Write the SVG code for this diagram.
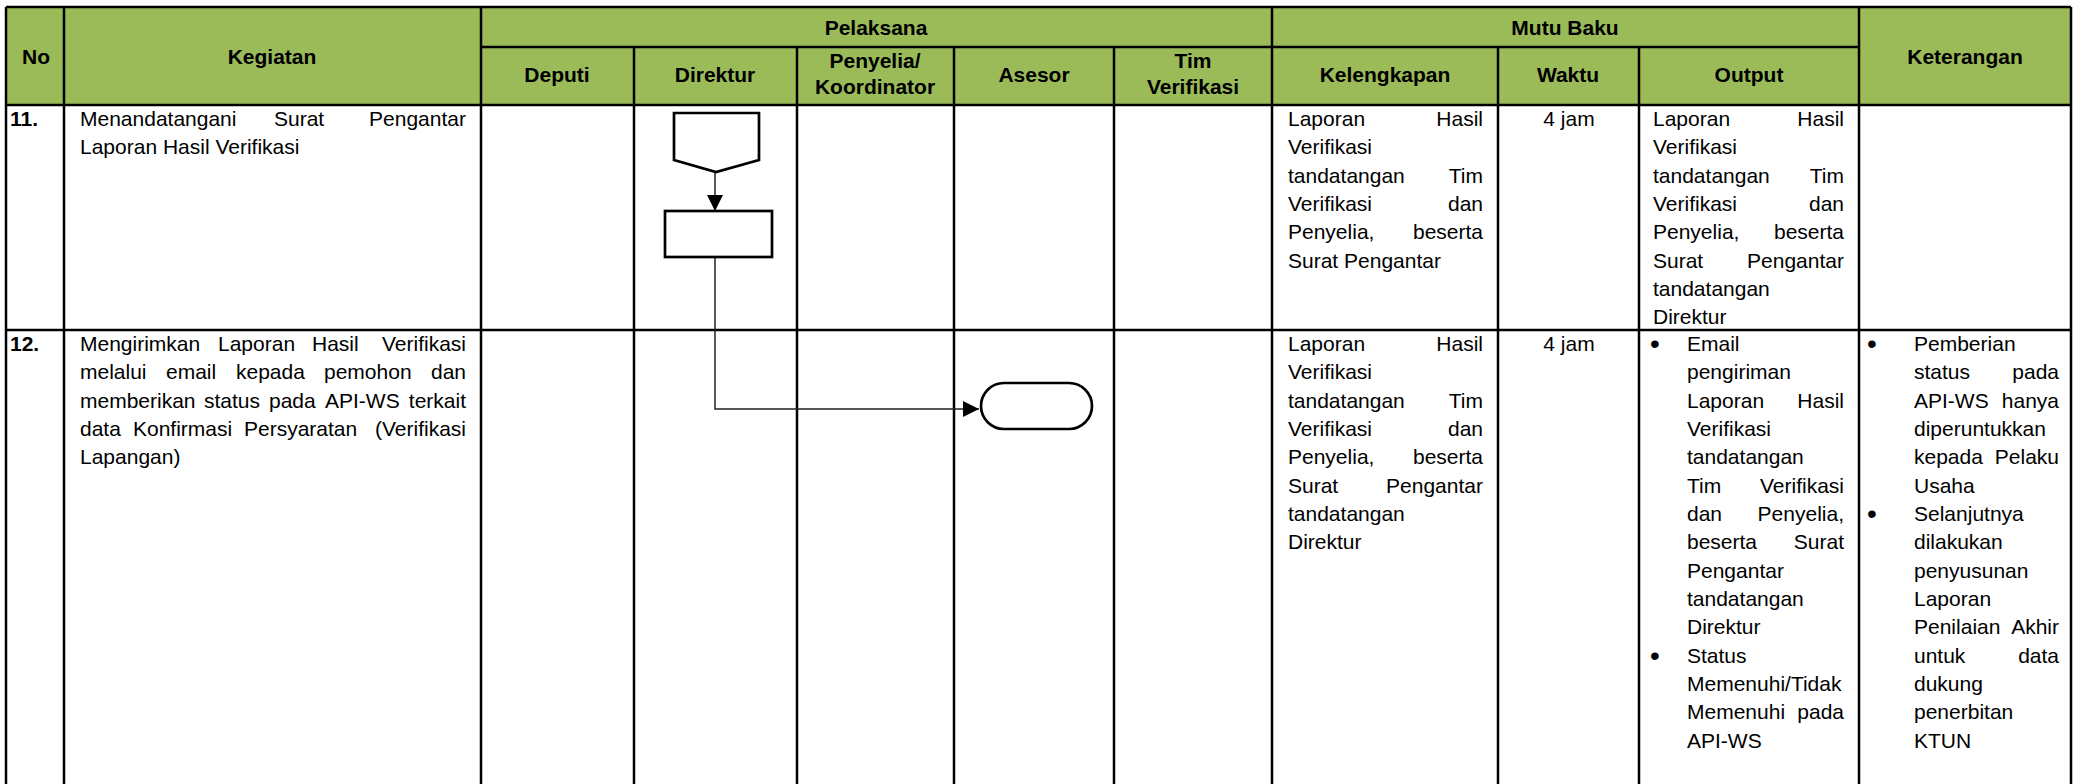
<svg xmlns="http://www.w3.org/2000/svg" width="2084" height="784" viewBox="0 0 2084 784">
<style>
.grid{stroke:#000;stroke-width:2.5;fill:none}
.h{font-family:"Liberation Sans",Arial,sans-serif;font-size:21px;font-weight:bold;text-anchor:middle;fill:#000}
.t{font-family:"Liberation Sans",Arial,sans-serif;font-size:21px;fill:#000}
.n{font-family:"Liberation Sans",Arial,sans-serif;font-size:21px;font-weight:bold;fill:#000}
.bl{font-family:"Liberation Sans",Arial,sans-serif;font-size:28px;fill:#000}
.e{text-anchor:end}
.c{text-anchor:middle}
.shape{fill:#fff;stroke:#000;stroke-width:2.7}
.conn{fill:none;stroke:#222;stroke-width:1.5}
</style>
<defs>
<marker id="arr" markerUnits="userSpaceOnUse" markerWidth="16" markerHeight="16" refX="16" refY="8" orient="auto">
<path d="M0,0 L16,8 L0,16 z" fill="#000"/>
</marker>
</defs>
<rect width="2084" height="784" fill="#fff"/>
<g id="table">
<rect x="6" y="7" width="2065" height="98" fill="#9BBB59"/>
<path class="grid" d="M6,7 H2071 M6,105 H2071 M481,47 H1859 M6,330 H2071 M6,7 V784 M2071,7 V784 M64,7 V784 M481,7 V784 M634,47 V784 M797,47 V784 M954,47 V784 M1114,47 V784 M1272,7 V784 M1498,47 V784 M1639,47 V784 M1859,7 V784"/>
</g>
<g id="header">
<text class="h" x="36" y="64">No</text>
<text class="h" x="272" y="64">Kegiatan</text>
<text class="h" x="876" y="35">Pelaksana</text>
<text class="h" x="1565" y="35">Mutu Baku</text>
<text class="h" x="1965" y="64">Keterangan</text>
<text class="h" x="557" y="82">Deputi</text>
<text class="h" x="715" y="82">Direktur</text>
<text class="h" x="875" y="68">Penyelia/</text>
<text class="h" x="875" y="94">Koordinator</text>
<text class="h" x="1034" y="82">Asesor</text>
<text class="h" x="1193" y="68">Tim</text>
<text class="h" x="1193" y="94">Verifikasi</text>
<text class="h" x="1385" y="82">Kelengkapan</text>
<text class="h" x="1568" y="82">Waktu</text>
<text class="h" x="1749" y="82">Output</text>
</g>
<g id="row11">
<text class="n" x="10" y="126">11.</text>
<text class="t" x="80" y="126">Menandatangani</text>
<text class="t" x="274" y="126">Surat</text>
<text class="t e" x="466" y="126">Pengantar</text>
<text class="t" x="80" y="154">Laporan Hasil Verifikasi</text>
<text class="t" x="1288" y="126">Laporan</text><text class="t e" x="1483" y="126">Hasil</text>
<text class="t" x="1288" y="154">Verifikasi</text>
<text class="t" x="1288" y="183">tandatangan</text><text class="t e" x="1483" y="183">Tim</text>
<text class="t" x="1288" y="211">Verifikasi</text><text class="t e" x="1483" y="211">dan</text>
<text class="t" x="1288" y="239">Penyelia,</text><text class="t e" x="1483" y="239">beserta</text>
<text class="t" x="1288" y="268">Surat Pengantar</text>
<text class="t c" x="1569" y="126">4 jam</text>
<text class="t" x="1653" y="126">Laporan</text><text class="t e" x="1844" y="126">Hasil</text>
<text class="t" x="1653" y="154">Verifikasi</text>
<text class="t" x="1653" y="183">tandatangan</text><text class="t e" x="1844" y="183">Tim</text>
<text class="t" x="1653" y="211">Verifikasi</text><text class="t e" x="1844" y="211">dan</text>
<text class="t" x="1653" y="239">Penyelia,</text><text class="t e" x="1844" y="239">beserta</text>
<text class="t" x="1653" y="268">Surat</text><text class="t e" x="1844" y="268">Pengantar</text>
<text class="t" x="1653" y="296">tandatangan</text>
<text class="t" x="1653" y="324">Direktur</text>
</g>
<g id="row12">
<text class="n" x="10" y="351">12.</text>
<text class="t" x="80" y="351">Mengirimkan</text>
<text class="t" x="218" y="351">Laporan</text>
<text class="t" x="312" y="351">Hasil</text>
<text class="t e" x="466" y="351">Verifikasi</text>
<text class="t" x="80" y="379">melalui</text>
<text class="t" x="166" y="379">email</text>
<text class="t" x="236" y="379">kepada</text>
<text class="t" x="324" y="379">pemohon</text>
<text class="t e" x="466" y="379">dan</text>
<text class="t" x="80" y="408">memberikan</text>
<text class="t" x="204" y="408">status</text>
<text class="t" x="269" y="408">pada</text>
<text class="t" x="325" y="408">API-WS</text>
<text class="t e" x="466" y="408">terkait</text>
<text class="t" x="80" y="436">data</text>
<text class="t" x="133" y="436">Konfirmasi</text>
<text class="t" x="244" y="436">Persyaratan</text>
<text class="t e" x="466" y="436">(Verifikasi</text>
<text class="t" x="80" y="464">Lapangan)</text>
<text class="t" x="1288" y="351">Laporan</text><text class="t e" x="1483" y="351">Hasil</text>
<text class="t" x="1288" y="379">Verifikasi</text>
<text class="t" x="1288" y="408">tandatangan</text><text class="t e" x="1483" y="408">Tim</text>
<text class="t" x="1288" y="436">Verifikasi</text><text class="t e" x="1483" y="436">dan</text>
<text class="t" x="1288" y="464">Penyelia,</text><text class="t e" x="1483" y="464">beserta</text>
<text class="t" x="1288" y="493">Surat</text><text class="t e" x="1483" y="493">Pengantar</text>
<text class="t" x="1288" y="521">tandatangan</text>
<text class="t" x="1288" y="549">Direktur</text>
<text class="t c" x="1569" y="351">4 jam</text>
<text class="bl" x="1650" y="353">•</text>
<text class="t" x="1687" y="351">Email</text>
<text class="t" x="1687" y="379">pengiriman</text>
<text class="t" x="1687" y="408">Laporan</text><text class="t e" x="1844" y="408">Hasil</text>
<text class="t" x="1687" y="436">Verifikasi</text>
<text class="t" x="1687" y="464">tandatangan</text>
<text class="t" x="1687" y="493">Tim</text><text class="t e" x="1844" y="493">Verifikasi</text>
<text class="t" x="1687" y="521">dan</text><text class="t e" x="1844" y="521">Penyelia,</text>
<text class="t" x="1687" y="549">beserta</text><text class="t e" x="1844" y="549">Surat</text>
<text class="t" x="1687" y="578">Pengantar</text>
<text class="t" x="1687" y="606">tandatangan</text>
<text class="t" x="1687" y="634">Direktur</text>
<text class="bl" x="1650" y="665">•</text>
<text class="t" x="1687" y="663">Status</text>
<text class="t" x="1687" y="691">Memenuhi/Tidak</text>
<text class="t" x="1687" y="719">Memenuhi</text><text class="t e" x="1844" y="719">pada</text>
<text class="t" x="1687" y="748">API-WS</text>
<text class="bl" x="1867" y="353">•</text>
<text class="t" x="1914" y="351">Pemberian</text>
<text class="t" x="1914" y="379">status</text><text class="t e" x="2059" y="379">pada</text>
<text class="t" x="1914" y="408">API-WS</text><text class="t e" x="2059" y="408">hanya</text>
<text class="t" x="1914" y="436">diperuntukkan</text>
<text class="t" x="1914" y="464">kepada</text><text class="t e" x="2059" y="464">Pelaku</text>
<text class="t" x="1914" y="493">Usaha</text>
<text class="bl" x="1867" y="523">•</text>
<text class="t" x="1914" y="521">Selanjutnya</text>
<text class="t" x="1914" y="549">dilakukan</text>
<text class="t" x="1914" y="578">penyusunan</text>
<text class="t" x="1914" y="606">Laporan</text>
<text class="t" x="1914" y="634">Penilaian</text><text class="t e" x="2059" y="634">Akhir</text>
<text class="t" x="1914" y="663">untuk</text><text class="t e" x="2059" y="663">data</text>
<text class="t" x="1914" y="691">dukung</text>
<text class="t" x="1914" y="719">penerbitan</text>
<text class="t" x="1914" y="748">KTUN</text>
</g>
<g id="connectors">
<path class="conn" d="M715,172 V211" marker-end="url(#arr)"/>
<path class="conn" d="M715,257 V409 H979" marker-end="url(#arr)"/>
</g>
<g id="node-offpage">
<polygon class="shape" points="674,113 759,113 759,160 716,172 674,160"/>
</g>
<g id="node-process">
<rect class="shape" x="665" y="211" width="107" height="46"/>
</g>
<g id="node-terminal">
<rect class="shape" x="981" y="383" width="111" height="46" rx="23" ry="23"/>
</g>
</svg>
